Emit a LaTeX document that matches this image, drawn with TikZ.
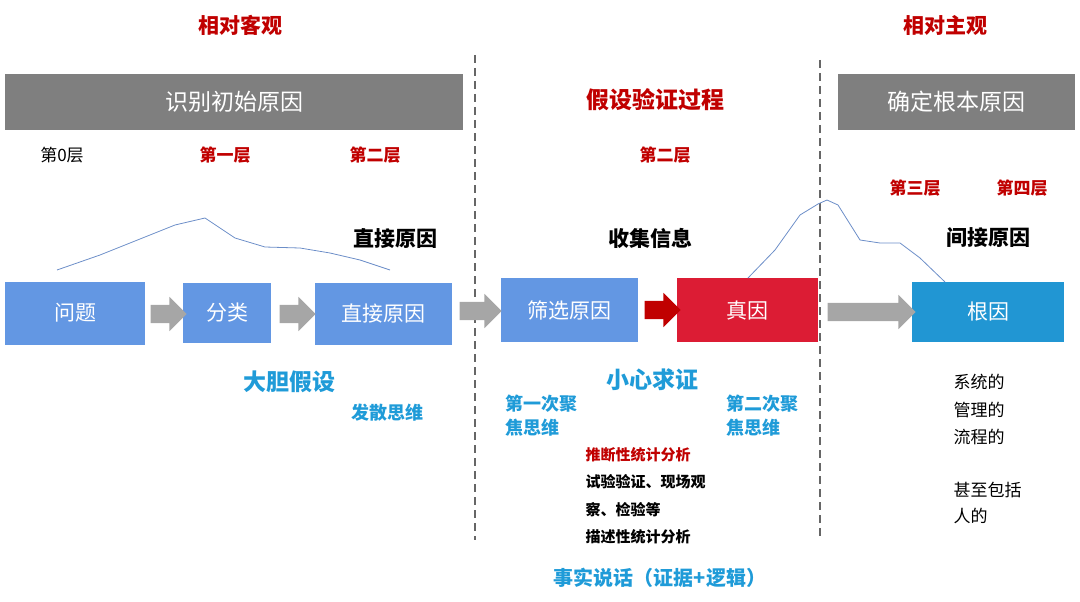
\documentclass[tikz,border=0pt]{standalone}
\usepackage{fontspec}
\setmainfont{Noto Sans CJK SC}
\usetikzlibrary{shapes.arrows}
\definecolor{boxblue}{HTML}{6397E3}
\definecolor{rootblue}{HTML}{2196D3}
\definecolor{truered}{HTML}{DC1C34}
\definecolor{hdrgray}{HTML}{7F7F7F}
\definecolor{txtred}{HTML}{C00000}
\definecolor{txtblue}{HTML}{1F9BD8}
\definecolor{curveblue}{HTML}{6C8EC8}
\tikzset{
  step/.style={fill=#1, text=white, font=\fontsize{21}{24}\selectfont, inner sep=0pt},
  hdr/.style={fill=hdrgray, text=white, font=\fontsize{23}{26}\selectfont, minimum height=55pt},
  blk/.style={single arrow, fill=#1, draw=none, inner xsep=0pt, inner ysep=9pt,
              single arrow head extend=8pt, single arrow head indent=0pt, single arrow tip angle=90},
  lbl/.style={font=\bfseries\fontsize{17}{20}\selectfont, text=#1},
  note/.style={font=\bfseries\fontsize{15}{18}\selectfont, anchor=west},
  sep/.style={draw=gray!80!black, line width=2.2pt, dash pattern=on 8pt off 5pt},
  ridge/.style={draw=curveblue, line width=0.8pt}
}
\begin{document}
\begin{tikzpicture}[x=1pt,y=-1pt]
\useasboundingbox (0,0) rectangle (1080,602);
% headers
\node[hdr, minimum width=458pt] (hobj) at (234,102) {识别初始原因};
\node[hdr, minimum width=237pt] (hsub) at (956,102) {确定根本原因};
\node[lbl=txtred, font=\bfseries\fontsize{23}{26}\selectfont] (hver) at (655,100) {假设验证过程};
\node[lbl=txtred, font=\bfseries\fontsize{21}{24}\selectfont] (tobj) at (240,25) {相对客观};
\node[lbl=txtred, font=\bfseries\fontsize{21}{24}\selectfont] (tsub) at (945,25) {相对主观};
% separators
\coordinate (s1a) at (475,55); \coordinate (s1b) at (475,540);
\coordinate (s2a) at (820,60); \coordinate (s2b) at (820,540);
\draw[sep] (s1a) -- (s1b);
\draw[sep] (s2a) -- (s2b);
% layers
\node[lbl=black, font=\fontsize{17}{20}\selectfont] (l0) at (62,155) {第0层};
\node[lbl=txtred] (l1) at (225,155) {第一层};
\node[lbl=txtred] (l2) at (375,155) {第二层};
\node[lbl=txtred] (l2b) at (665,155) {第二层};
\node[lbl=txtred] (l3) at (915,188) {第三层};
\node[lbl=txtred] (l4) at (1022,188) {第四层};
\node[lbl=black, font=\bfseries\fontsize{21}{24}\selectfont] (tdir) at (395,238) {直接原因};
\node[lbl=black, font=\bfseries\fontsize{21}{24}\selectfont] (tinfo) at (650,238) {收集信息};
\node[lbl=black, font=\bfseries\fontsize{21}{24}\selectfont] (tind) at (988,238) {间接原因};
% steps
\node[step=boxblue, minimum width=140pt, minimum height=63pt] (prob) at (75,313) {问题};
\node[step=boxblue, minimum width=88pt, minimum height=60pt] (cls) at (227,313) {分类};
\node[step=boxblue, minimum width=137pt, minimum height=62pt] (dir) at (383,314) {直接原因};
\node[step=boxblue, minimum width=137pt, minimum height=64pt] (scr) at (569,310) {筛选原因};
\node[step=truered, minimum width=141pt, minimum height=64pt] (true) at (747,310) {真因};
\node[step=rootblue, minimum width=152pt, minimum height=60pt] (root) at (988,312) {根因};
% block arrows
\node[blk=gray!70, minimum height=36pt] (a1) at (164,314) {};
\node[blk=gray!70, minimum height=36pt] (a2) at (293,314) {};
\node[blk=gray!70, minimum height=42pt] (a3) at (476,311) {};
\node[blk=txtred, minimum height=36pt] (a4) at (658,310) {};
\node[blk=gray!70, minimum height=88pt] (a5) at (867,312) {};
% ridges
\draw[ridge] (57,270) -- (100,255) -- (150,235) -- (175,225) -- (205,218) -- (235,238) -- (265,247)
  -- (300,248) -- (330,253) -- (360,260) -- (390,270);
\draw[ridge] (748,278) -- (775,250) -- (800,215) -- (818,204) -- (827,200) -- (838,205) -- (860,240)
  -- (880,243) -- (900,243) -- (920,258) -- (945,282);
% blue notes
\node[lbl=txtblue, font=\bfseries\fontsize{23}{26}\selectfont] (bold) at (289,382) {大胆假设};
\node[lbl=txtblue, font=\bfseries\fontsize{18}{21}\selectfont] (div) at (387,413) {发散思维};
\node[lbl=txtblue, font=\bfseries\fontsize{23}{26}\selectfont] (care) at (652,380) {小心求证};
\node[lbl=txtblue, font=\bfseries\fontsize{18}{24}\selectfont, align=left] (f1) at (541,416) {第一次聚\\焦思维};
\node[lbl=txtblue, font=\bfseries\fontsize{18}{24}\selectfont, align=left] (f2) at (762,416) {第二次聚\\焦思维};
\node[lbl=txtblue, font=\bfseries\fontsize{20}{23}\selectfont] (fact) at (660,578) {事实说话（证据+逻辑）};
% methods
\node[note, text=txtred] (m0) at (582,455) {推断性统计分析};
\node[note] (m1) at (582,482) {试验验证、现场观};
\node[note] (m2) at (582,510) {察、检验等};
\node[note] (m3) at (582,537) {描述性统计分析};
% root notes
\node[note, font=\fontsize{17}{20}\selectfont] (r1) at (950,382) {系统的};
\node[note, font=\fontsize{17}{20}\selectfont] (r2) at (950,410) {管理的};
\node[note, font=\fontsize{17}{20}\selectfont] (r3) at (950,437) {流程的};
\node[note, font=\fontsize{17}{20}\selectfont] (r4) at (950,490) {甚至包括};
\node[note, font=\fontsize{17}{20}\selectfont] (r5) at (950,516) {人的};
\end{tikzpicture}
\end{document}
